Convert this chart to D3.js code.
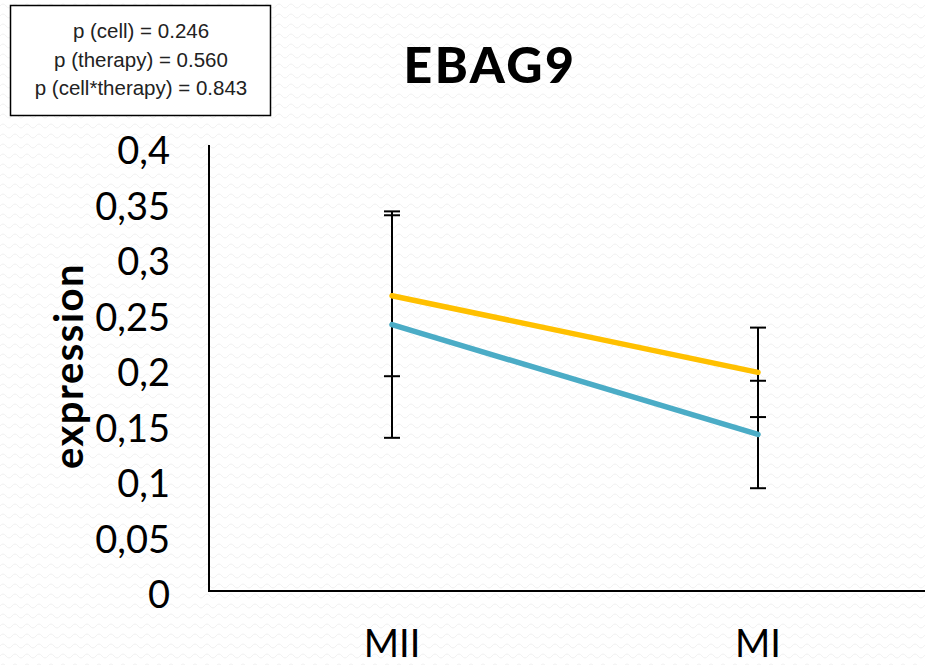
<!DOCTYPE html>
<html>
<head>
<meta charset="utf-8">
<script src="https://d3js.org/d3.v7.min.js"></script>
<style>
  html, body { margin: 0; padding: 0; background: #ffffff; }
  svg { display: block; }
</style>
</head>
<body>
<svg id="chart" width="925" height="665"></svg>
<script>
// ---- data ----
const categories = ["MII", "MI"];
const yellowMeans = [0.266, 0.197];
const yellowErrors = [0.0725, 0.0403];
const blueMeans = [0.240, 0.141];
const blueErrors = [0.102, 0.0484];
const yTicks = [0, 0.05, 0.1, 0.15, 0.2, 0.25, 0.3, 0.35, 0.4];
const yTickLabels = ["0", "0,05", "0,1", "0,15", "0,2", "0,25", "0,3", "0,35", "0,4"];
const statLines = ["p (cell) = 0.246", "p (therapy) = 0.560", "p (cell*therapy) = 0.843"];
const title = "EBAG9";
const yLabel = "expression";

const series = [
  { name: "yellow", means: yellowMeans, errors: yellowErrors, color: "#FFC000" },
  { name: "blue", means: blueMeans, errors: blueErrors, color: "#4BACC6" }
];

const svg = d3.select("#chart");

// subtle wavy background pattern
const defs = svg.append("defs");
const pat = defs.append("pattern").attr("id", "wave").attr("width", 12).attr("height", 10)
  .attr("patternUnits", "userSpaceOnUse");
pat.append("rect").attr("width", 12).attr("height", 10).attr("fill", "#ffffff");
pat.append("path").attr("d", "M0,6 Q3,2 6,6 T12,6").attr("fill", "none")
  .attr("stroke", "#f1f1f1").attr("stroke-width", 1);
svg.append("rect").attr("width", 925).attr("height", 665).attr("fill", "url(#wave)");

const font = "Lato, 'Open Sans', sans-serif";

const x = d3.scalePoint().domain(categories).range([209, 941]).padding(0.5);
const y = d3.scaleLinear().domain([0, 0.4]).range([591, 147]);

// axes lines
svg.append("line").attr("x1", 209).attr("x2", 209).attr("y1", y(0.4) - 2).attr("y2", y(0))
  .attr("stroke", "#000").attr("stroke-width", 2);
svg.append("line").attr("x1", 208).attr("x2", 925).attr("y1", y(0)).attr("y2", y(0))
  .attr("stroke", "#000").attr("stroke-width", 2);

// y tick labels
svg.append("g").selectAll("text").data(yTicks).join("text")
  .attr("x", 170).attr("y", d => y(d)).attr("dy", "0.45em")
  .attr("text-anchor", "end")
  .attr("font-family", font).attr("font-size", 38).attr("fill", "#000")
  .text((d, i) => yTickLabels[i]);

// x tick labels
svg.append("g").selectAll("text").data(categories).join("text")
  .attr("x", d => x(d)).attr("y", 657)
  .attr("text-anchor", "middle")
  .attr("font-family", font).attr("font-size", 38).attr("fill", "#000")
  .text(d => d);

// y label
svg.append("text")
  .attr("transform", "translate(83,366) rotate(-90)")
  .attr("text-anchor", "middle")
  .attr("font-family", font).attr("font-weight", 700).attr("font-size", 40)
  .attr("letter-spacing", 1.5).attr("fill", "#000")
  .text(yLabel);

// title
svg.append("text")
  .attr("x", 490).attr("y", 83)
  .attr("text-anchor", "middle")
  .attr("font-family", font).attr("font-weight", 900).attr("font-size", 50)
  .attr("letter-spacing", 2.5).attr("fill", "#000")
  .text(title);

// error bars
const capHalf = 8;
series.forEach(s => {
  const g = svg.append("g");
  categories.forEach((c, i) => {
    const cx = x(c), top = y(s.means[i] + s.errors[i]), bot = y(s.means[i] - s.errors[i]);
    g.append("line").attr("x1", cx).attr("x2", cx).attr("y1", top).attr("y2", bot)
      .attr("stroke", "#000").attr("stroke-width", 2);
    [top, bot].forEach(yy => g.append("line").attr("x1", cx - capHalf).attr("x2", cx + capHalf)
      .attr("y1", yy).attr("y2", yy).attr("stroke", "#000").attr("stroke-width", 2));
  });
});

// series lines
const line = d3.line().x((d, i) => x(categories[i])).y(d => y(d));
series.forEach(s => {
  svg.append("path").attr("d", line(s.means)).attr("fill", "none")
    .attr("stroke", s.color).attr("stroke-width", 5.5).attr("stroke-linecap", "round");
});

// stats box
svg.append("rect").attr("x", 10.5).attr("y", 5.5).attr("width", 260).attr("height", 110)
  .attr("fill", "#ffffff").attr("stroke", "#000").attr("stroke-width", 1.5);
svg.append("g").selectAll("text").data(statLines).join("text")
  .attr("x", 141).attr("y", (d, i) => 38 + i * 28.5)
  .attr("text-anchor", "middle")
  .attr("font-family", "'Liberation Sans', Arial, sans-serif").attr("font-size", 20.5).attr("fill", "#222")
  .text(d => d);
</script>
</body>
</html>
